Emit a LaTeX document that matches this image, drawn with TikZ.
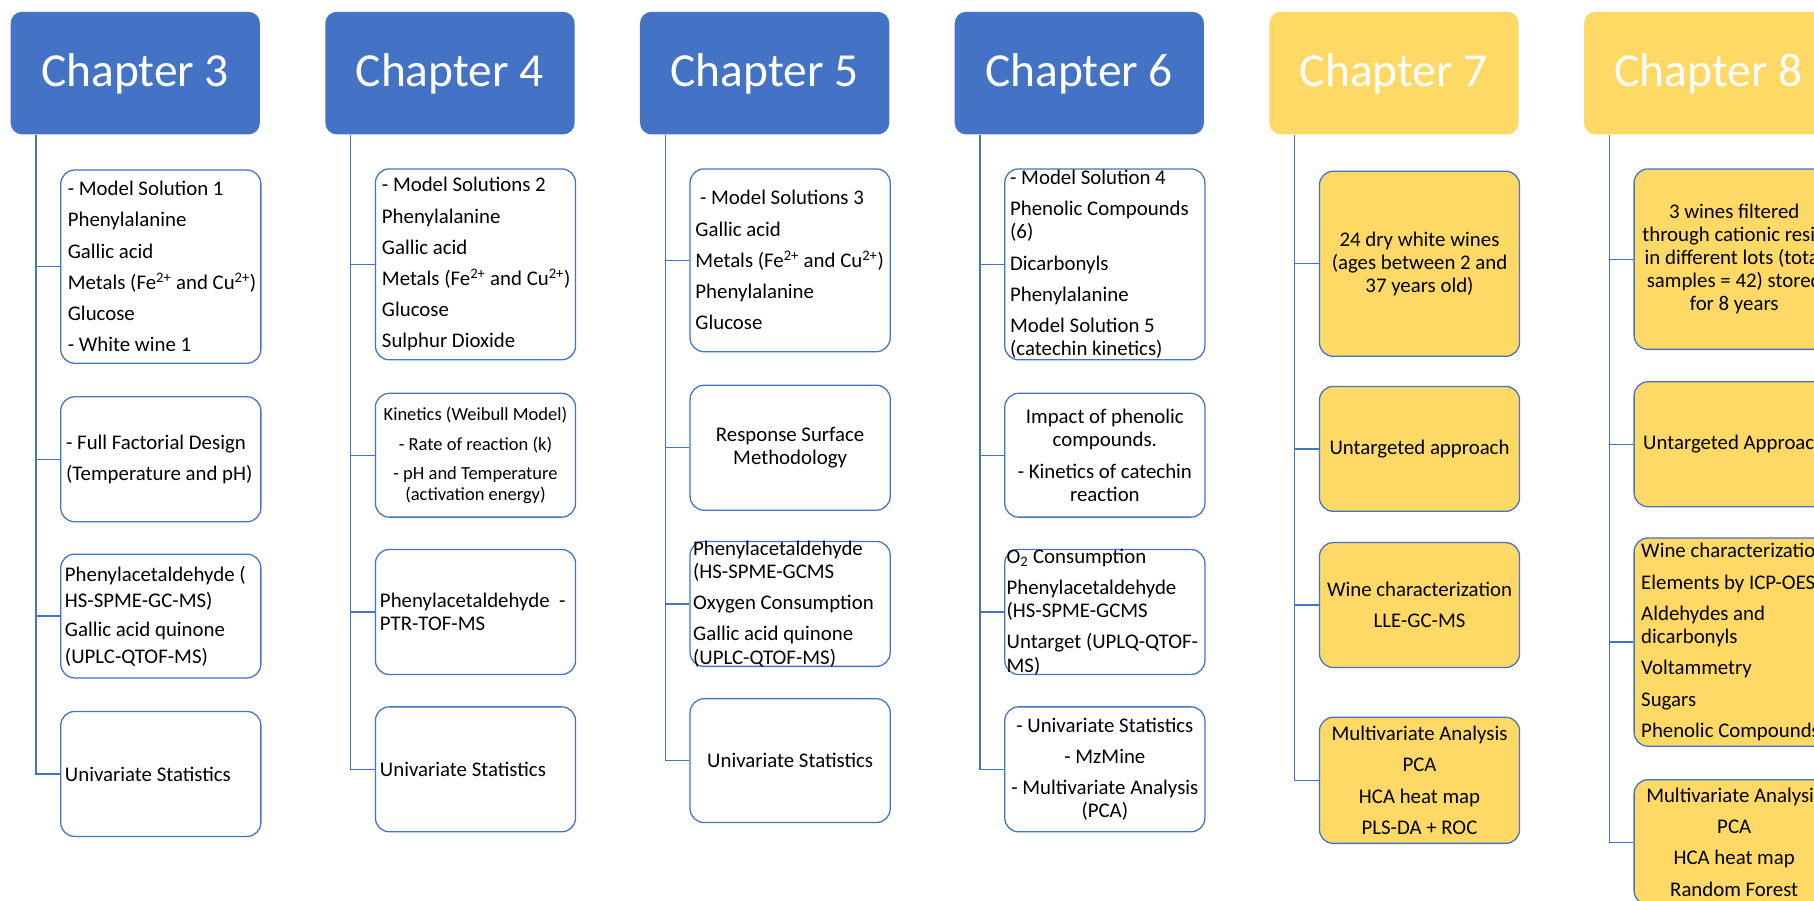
\documentclass[tikz,border=0pt]{standalone}
\usepackage{fontspec}
\setmainfont{Carlito}
\definecolor{obl}{HTML}{4472C4}
\definecolor{oyl}{HTML}{FFD966}
\begin{document}
\begin{tikzpicture}[x=1pt,y=-1pt,
  hdr/.style={rounded corners=10pt, inner sep=0pt, minimum width=215.5pt, minimum height=106pt, anchor=north west, draw=none},
  bhdr/.style={hdr, fill=obl},
  yhdr/.style={hdr, fill=oyl},
  htxt/.style={text=white, font=\fontsize{41}{41}\selectfont, inner sep=0pt, anchor=base},
  bx/.style={draw=obl, line width=1.1pt, rounded corners=12pt, minimum width=173pt, inner sep=0pt},
  wbx/.style={bx, fill=white},
  ybx/.style={bx, fill=oyl},
  conn/.style={draw=obl, line width=1.1pt},
  lt/.style={inner sep=0pt, align=left, anchor=west, font=\fontsize{18}{20}\selectfont},
  ct/.style={inner sep=0pt, align=center, font=\fontsize{18}{20}\selectfont},
  st/.style={inner sep=0pt, align=center, font=\fontsize{16}{18}\selectfont},
]
\clip (0,0) rectangle (1568,778);
\fill[white] (0,0) rectangle (1568,778);

% headers
\node[bhdr] (h3) at (9,10) {};
\node[bhdr] (h4) at (281,10) {};
\node[bhdr] (h5) at (553,10) {};
\node[bhdr] (h6) at (825,10) {};
\node[yhdr] (h7) at (1097,10) {};
\node[yhdr] (h8) at (1369,10) {};
\node[htxt] (l3) at (116.75,75) {Chapter 3};
\node[htxt] (l4) at (388.75,75) {Chapter 4};
\node[htxt] (l5) at (660.75,75) {Chapter 5};
\node[htxt] (l6) at (932.75,75) {Chapter 6};
\node[htxt] (l7) at (1204.75,75) {Chapter 7};
\node[htxt] (l8) at (1476.75,75) {Chapter 8};

% boxes chapter 3
\node[wbx, minimum height=167pt] (b31) at (139,230.5) {};
\node[wbx, minimum height=108pt] (b32) at (139,397) {};
\node[wbx, minimum height=107pt] (b33) at (139,532.5) {};
\node[wbx, minimum height=108pt] (b34) at (139,669) {};
% chapter 4
\node[wbx, minimum height=165pt] (b41) at (411,228.5) {};
\node[wbx, minimum height=107pt] (b42) at (411,393.5) {};
\node[wbx, minimum height=108pt] (b43) at (411,529) {};
\node[wbx, minimum height=108pt] (b44) at (411,665) {};
% chapter 5
\node[wbx, minimum height=158pt] (b51) at (683,225) {};
\node[wbx, minimum height=108pt] (b52) at (683,387) {};
\node[wbx, minimum height=108pt] (b53) at (683,522) {};
\node[wbx, minimum height=107pt] (b54) at (683,657.5) {};
% chapter 6
\node[wbx, minimum height=165pt] (b61) at (955,228.5) {};
\node[wbx, minimum height=107pt] (b62) at (955,393.5) {};
\node[wbx, minimum height=108pt] (b63) at (955,529) {};
\node[wbx, minimum height=108pt] (b64) at (955,665) {};
% chapter 7
\node[ybx, minimum height=160pt] (b71) at (1227,228) {};
\node[ybx, minimum height=108pt] (b72) at (1227,388) {};
\node[ybx, minimum height=108pt] (b73) at (1227,523) {};
\node[ybx, minimum height=109pt] (b74) at (1227,674.5) {};
% chapter 8
\node[ybx, minimum height=156pt] (b81) at (1499,224) {};
\node[ybx, minimum height=108pt] (b82) at (1499,384) {};
\node[ybx, minimum height=180pt] (b83) at (1499,555) {};
\node[ybx, minimum height=108pt] (b84) at (1499,728) {};

% connectors
\foreach \c in {3,4,5,6,7,8}{
  \coordinate (v\c) at ([xshift=22pt]h\c.south west);
  \draw[conn] (v\c) |- (b\c4.west);
  \foreach \k in {1,2,3}{
    \draw[conn] (v\c |- b\c\k.west) -- (b\c\k.west);
  }
}

% texts chapter 3
\node[lt] (t31) at ([xshift=6.5pt]b31.west) {- Model Solution 1\\[7pt] Phenylalanine\\[7pt] Gallic acid\\[7pt] Metals (Fe\textsuperscript{2+} and Cu\textsuperscript{2+})\\[7pt] Glucose\\[7pt] - White wine 1};
\node[lt] (t32) at ([xshift=5pt]b32.west) {- Full Factorial Design\\[7pt] (Temperature and pH)};
\node[lt] (t33) at ([xshift=4pt]b33.west) {Phenylacetaldehyde (\\[3pt] HS-SPME-GC-MS)\\[5pt] Gallic acid quinone\\[3pt] (UPLC-QTOF-MS)};
\node[lt] (t34) at ([xshift=4pt]b34.west) {Univariate Statistics};
% chapter 4
\node[lt] (t41) at ([xshift=6pt]b41.west) {- Model Solutions 2\\[7pt] Phenylalanine\\[7pt] Gallic acid\\[7pt] Metals (Fe\textsuperscript{2+} and Cu\textsuperscript{2+})\\[7pt] Glucose\\[7pt] Sulphur Dioxide};
\node[st] (t42) at (b42) {Kinetics (Weibull Model)\\[8pt] - Rate of reaction (k)\\[7pt] - pH and Temperature\\ (activation energy)};
\node[lt] (t43) at ([xshift=4.3pt]b43.west) {Phenylacetaldehyde\ \ -\\ PTR-TOF-MS};
\node[lt] (t44) at ([xshift=4.3pt]b44.west) {Univariate Statistics};
% chapter 5
\node[lt] (t51) at ([xshift=5pt]b51.west) {\hspace*{4pt}- Model Solutions 3\\[7pt] Gallic acid\\[7pt] Metals (Fe\textsuperscript{2+} and Cu\textsuperscript{2+})\\[7pt] Phenylalanine\\[7pt] Glucose};
\node[ct] (t52) at (b52) {Response Surface\\ Methodology};
\node[lt] (t53) at ([xshift=3pt]b53.west) {Phenylacetaldehyde\\ (HS-SPME-GCMS\\[7pt] Oxygen Consumption\\[7pt] Gallic acid quinone\\ (UPLC-QTOF-MS)};
\node[ct] (t54) at (b54) {Univariate Statistics};
% chapter 6
\node[lt] (t61) at ([xshift=5pt]b61.west) {- Model Solution 4\\[7pt] Phenolic Compounds\\ (6)\\[7pt] Dicarbonyls\\[7pt] Phenylalanine\\[7pt] Model Solution 5\\ (catechin kinetics)};
\node[ct] (t62) at (b62) {Impact of phenolic\\ compounds.\\[7pt] - Kinetics of catechin\\ reaction};
\node[lt] (t63) at ([xshift=2pt]b63.west) {O\textsubscript{2} Consumption\\[7pt] Phenylacetaldehyde\\ (HS-SPME-GCMS\\[7pt] Untarget (UPLQ-QTOF-\\ MS)};
\node[ct] (t64) at (b64) {- Univariate Statistics\\[7pt] - MzMine\\[7pt] - Multivariate Analysis\\ (PCA)};
% chapter 7
\node[ct] (t71) at (b71) {24 dry white wines\\ (ages between 2 and\\ 37 years old)};
\node[ct] (t72) at (b72) {Untargeted approach};
\node[ct] (t73) at (b73) {Wine characterization\\[7pt] LLE-GC-MS};
\node[ct] (t74) at (b74) {Multivariate Analysis\\[7pt] PCA\\[7pt] HCA heat map\\[7pt] PLS-DA + ROC};
% chapter 8
\node[ct] (t81) at (b81) {3 wines filtered\\ through cationic resin\\ in different lots (total\\ samples = 42) stored\\ for 8 years};
\node[ct] (t82) at (b82) {Untargeted Approach};
\node[lt] (t83) at ([xshift=6.5pt]b83.west) {Wine characterization\\[7pt] Elements by ICP-OES\\[7pt] Aldehydes and\\ dicarbonyls\\[7pt] Voltammetry\\[7pt] Sugars\\[7pt] Phenolic Compounds};
\node[ct] (t84) at (b84) {Multivariate Analysis\\[7pt] PCA\\[7pt] HCA heat map\\[7pt] Random Forest};
\end{tikzpicture}
\end{document}
